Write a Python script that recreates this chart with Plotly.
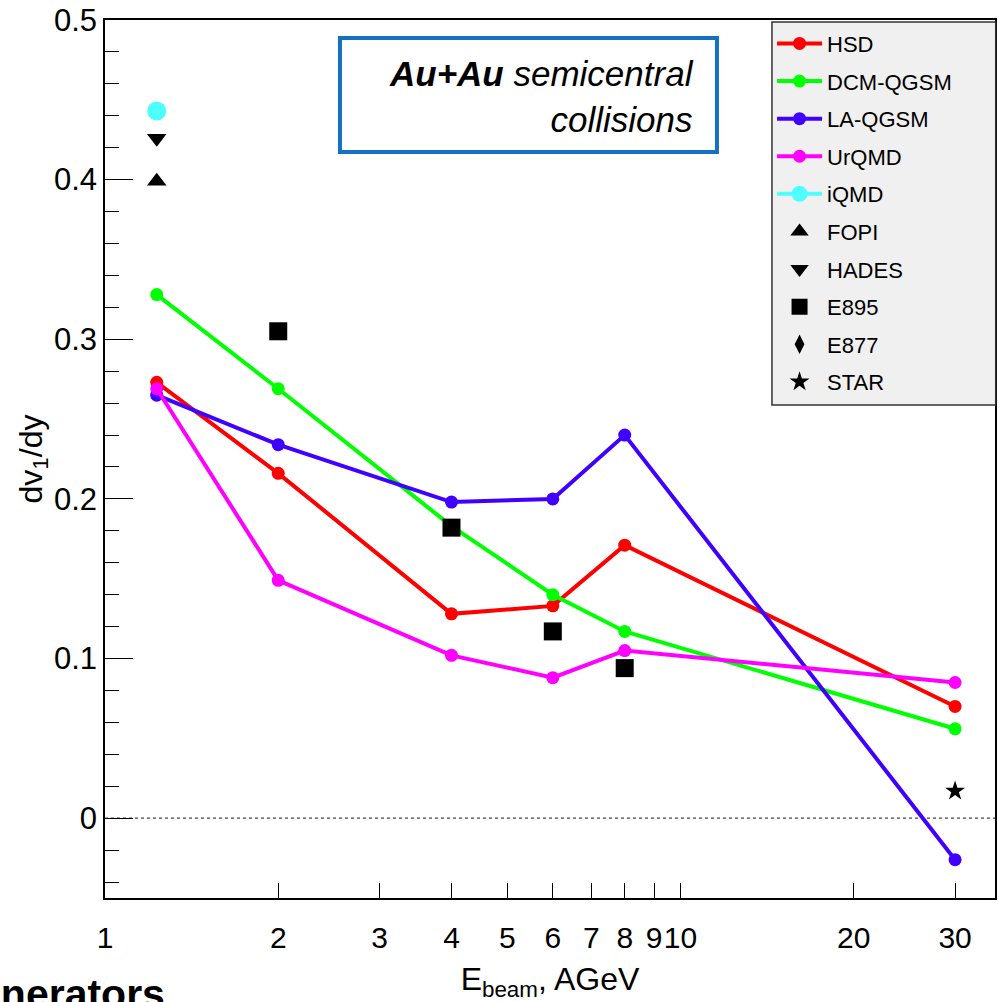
import plotly.graph_objects as go

# ---------------- data ----------------
energies = [1.23, 2, 4, 6, 8, 30]
hsd = [0.273, 0.216, 0.128, 0.133, 0.171, 0.070]
dcm_qgsm = [0.328, 0.269, 0.183, 0.140, 0.117, 0.056]
la_qgsm = [0.265, 0.234, 0.198, 0.200, 0.240, -0.026]
urqmd = [0.269, 0.149, 0.102, 0.088, 0.105, 0.085]

iqmd_x = [1.23]
iqmd_y = [0.443]
fopi_x = [1.23]
fopi_y = [0.399]
hades_x = [1.23]
hades_y = [0.426]
e895_x = [2, 4, 6, 8]
e895_y = [0.305, 0.182, 0.117, 0.094]
e877_x = []
e877_y = []
star_x = [30]
star_y = [0.017]

x_tickvals = [1, 2, 3, 4, 5, 6, 7, 8, 9, 10, 20, 30]
x_ticktext = ["1", "2", "3", "4", "5", "6", "7", "8", "9", "10", "20", "30"]
x_major_ticks = [1, 10]
y_tickvals = [0, 0.1, 0.2, 0.3, 0.4, 0.5]
y_ticktext = ["0", "0.1", "0.2", "0.3", "0.4", "0.5"]

FONT = "Liberation Sans, Arial, Helvetica, sans-serif"
XRANGE = [0, 1.5465]

fig = go.Figure()

models = [
    ("HSD", hsd, "#ff0000"),
    ("DCM-QGSM", dcm_qgsm, "#00ff00"),
    ("LA-QGSM", la_qgsm, "#4000ff"),
    ("UrQMD", urqmd, "#ff00ff"),
]
for i, (name, vals, col) in enumerate(models):
    fig.add_trace(go.Scatter(
        x=energies, y=vals, name=name, mode="lines+markers",
        line=dict(color=col, width=4),
        marker=dict(color=col, size=13, symbol="circle"),
        legendgroup=f"g{i}",
    ))

fig.add_trace(go.Scatter(
    x=iqmd_x, y=iqmd_y, name="iQMD", mode="lines+markers",
    line=dict(color="#4dffff", width=4),
    marker=dict(color="#4dffff", size=19, symbol="circle"),
    legendgroup="g4",
))

data_sets = [
    ("FOPI", fopi_x, fopi_y, "triangle-up", 17),
    ("HADES", hades_x, hades_y, "triangle-down", 17),
    ("E895", e895_x, e895_y, "square", 18),
    ("E877", e877_x, e877_y, "diamond-tall", 14),
    ("STAR", star_x, star_y, "star", 15),
]
for j, (name, xs, ys, sym, sz) in enumerate(data_sets):
    fig.add_trace(go.Scatter(
        x=xs if xs else [None], y=ys if ys else [None],
        name=name, mode="markers",
        marker=dict(color="black", size=sz, symbol=sym, line=dict(width=0)),
        legendgroup=f"g{5 + j}",
    ))

# dotted zero line
fig.add_shape(type="line", xref="paper", yref="y", x0=0, x1=1, y0=0, y1=0,
              line=dict(color="#444444", width=1.3, dash="dot"), layer="below")

# legend frame (drawn behind the transparent legend)
fig.add_shape(type="rect", xref="paper", yref="paper",
              x0=0.7494, x1=1.0008, y0=0.5615, y1=0.9977,
              line=dict(color="#333333", width=1.5), fillcolor="#f0f0f0", layer="above")

# annotation box (frame + text)
fig.add_shape(type="rect", xref="paper", yref="paper",
              x0=0.264, x1=0.6876, y0=0.8497, y1=0.9795,
              line=dict(color="#1670c0", width=4), fillcolor="white", layer="above")
fig.add_annotation(
    xref="paper", yref="paper", x=0.6645, y=0.9129,
    xanchor="right", yanchor="middle",
    text="<b><i>Au+Au</i></b><i> semicentral</i><br><i>collisions</i>",
    showarrow=False, align="right",
    font=dict(family=FONT, size=35, color="black"),
)

# cut-off text at bottom left
fig.add_annotation(
    xref="paper", yref="paper", x=0.0697, y=-0.109,
    xanchor="right", yanchor="middle",
    text="<b>generators</b>", showarrow=False,
    font=dict(family=FONT, size=41, color="black"),
)

fig.update_layout(
    width=998, height=1002,
    margin=dict(l=105, r=3, t=20, b=104),
    paper_bgcolor="white", plot_bgcolor="white",
    font=dict(family=FONT, size=24, color="black"),
    showlegend=True,
    legend=dict(
        x=0.7495, y=0.997, xanchor="left", yanchor="top",
        bgcolor="rgba(0,0,0,0)", borderwidth=0,
        font=dict(family=FONT, size=22, color="black"),
        tracegroupgap=6, itemwidth=45,
    ),
    xaxis=dict(
        type="log", range=XRANGE, automargin=False,
        tickvals=x_tickvals, ticktext=x_ticktext, tickangle=0,
        ticks="inside", ticklen=15, tickwidth=1, tickcolor="black",
        ticklabelstandoff=12,
        showline=True, linecolor="black", linewidth=1.5, mirror=True,
        showgrid=False, zeroline=False,
        tickfont=dict(family=FONT, size=30),
        title=dict(text="E<sub>beam</sub>, AGeV", font=dict(family=FONT, size=32), standoff=20),
    ),
    xaxis2=dict(
        type="log", range=XRANGE, overlaying="x", anchor="y", side="bottom",
        automargin=False,
        tickvals=x_major_ticks, showticklabels=False,
        ticks="inside", ticklen=28, tickwidth=1, tickcolor="black",
        showline=False, showgrid=False, zeroline=False,
    ),
    yaxis=dict(
        range=[-0.05, 0.5], automargin=False,
        tickvals=y_tickvals, ticktext=y_ticktext,
        ticks="inside", ticklen=28, tickwidth=1, tickcolor="black",
        minor=dict(dtick=0.02, ticks="inside", ticklen=14, tickcolor="black", tickwidth=1),
        showline=True, linecolor="black", linewidth=1.5, mirror=True,
        showgrid=False, zeroline=False,
        tickfont=dict(family=FONT, size=31),
        title=dict(text="dv<sub>1</sub>/dy", font=dict(family=FONT, size=32), standoff=2),
    ),
)

fig.write_html("out.html")
